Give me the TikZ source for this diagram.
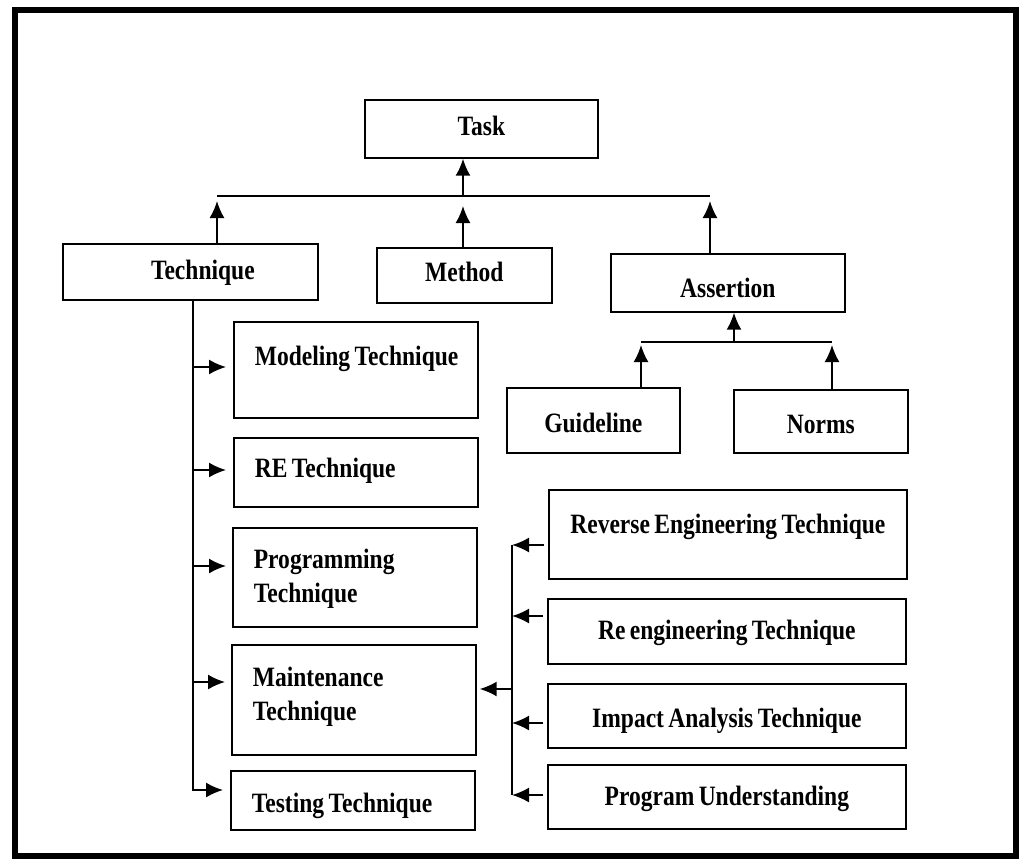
\documentclass[tikz,border=0pt]{standalone}
\usepackage{fontspec}
\newfontfamily\boxfont{Liberation Serif}[FakeStretch=0.84,WordSpace=0.75]
\usetikzlibrary{arrows.meta}
\begin{document}
\begin{tikzpicture}[x=1pt,y=-1pt,
  line/.style={line width=1.8pt},
  arr/.style={line width=1.8pt,-{Latex[length=17pt,width=15pt]}},
  box/.style={draw,line width=1.7pt,anchor=north west,inner ysep=0pt,
    font=\boxfont\bfseries\fontsize{28}{34}\selectfont},
  cbox/.style={box,inner xsep=0pt},
  lbox/.style={box,inner xsep=21pt,text width=202pt,align=flush left}]
\useasboundingbox (0,0) rectangle (1022,863);
% outer frame
\draw[line width=6.5pt] (15,10) rectangle (1016,856);

% top level
\node[cbox,minimum width=233pt,text height=36pt,text depth=22pt] (task) at (364,99) {Task};
\node[cbox,minimum width=255pt,text height=36pt,text depth=20pt] (tech) at (62,243) {\hspace{25pt}Technique};
\node[cbox,minimum width=175pt,text height=34pt,text depth=21pt] (method) at (376,247) {Method\hspace{17pt}};
\node[cbox,minimum width=234pt,text height=44pt,text depth=14pt] (assert) at (610,253) {Assertion};

% assertion children
\node[cbox,minimum width=173pt,text height=45pt,text depth=20pt] (guide) at (506,387) {Guideline};
\node[cbox,minimum width=174pt,text height=44pt,text depth=19pt] (norms) at (733,389) {Norms};

% technique children
\node[lbox,text height=44pt,text depth=52pt] (model) at (233,321) {\mbox{Modeling Technique}};
\node[lbox,text height=40pt,text depth=29pt] (retech) at (233,437) {RE Technique};
\node[lbox,text height=41pt,text depth=58pt] (prog) at (232,527) {Programming\\Technique};
\node[lbox,text height=42pt,text depth=68pt] (maint) at (231,644) {Maintenance\\Technique};
\node[lbox,text height=42pt,text depth=17pt] (test) at (230,770) {Testing Technique};

% maintenance children
\node[cbox,minimum width=358pt,text height=44pt,text depth=45pt] (rev) at (548,489) {Reverse Engineering Technique};
\node[cbox,minimum width=358pt,text height=41pt,text depth=24pt] (reeng) at (547,598) {Re engineering Technique};
\node[cbox,minimum width=358pt,text height=44pt,text depth=20pt] (impact) at (547,683) {Impact Analysis Technique};
\node[cbox,minimum width=358pt,text height=41pt,text depth=23pt] (pu) at (547,764) {Program Understanding};

% bar under the task
\coordinate (barL) at (217,196);
\coordinate (barR) at (710,196);
\coordinate (barM) at (463,196);
\coordinate (tipT) at (217,201);
\coordinate (tipM) at (463,206);
\coordinate (tipA) at (710,201);
\draw[line] (barL) -- (barR);
\draw[arr] (barM) -- (barM |- task.south);
\draw[arr] (tipT |- tech.north) -- (tipT);
\draw[arr] (tipM |- method.north) -- (tipM);
\draw[arr] (tipA |- assert.north) -- (tipA);

% bar under the assertion
\coordinate (abL) at (641,342);
\coordinate (abR) at (832,342);
\coordinate (abM) at (734,342);
\coordinate (atL) at (641,345);
\coordinate (atR) at (832,345);
\draw[line] (abL) -- (abR);
\draw[arr] (abM) -- (abM |- assert.south);
\draw[arr] (atL |- guide.north) -- (atL);
\draw[arr] (atR |- norms.north) -- (atR);

% technique spine
\coordinate (lMod) at (193,367);
\coordinate (lRe) at (193,470);
\coordinate (lProg) at (193,566);
\coordinate (lMnt) at (193,682);
\coordinate (lTest) at (193,790);
\draw[arr,shorten >=7pt] (lTest |- tech.south) -- (lTest) -- (lTest -| test.west);
\draw[arr,shorten >=7pt] (lMod) -- (lMod -| model.west);
\draw[arr,shorten >=7pt] (lRe) -- (lRe -| retech.west);
\draw[arr,shorten >=6pt] (lProg) -- (lProg -| prog.west);
\draw[arr,shorten >=6pt] (lMnt) -- (lMnt -| maint.west);

% maintenance spine
\coordinate (rRev) at (512,545);
\coordinate (rRe) at (512,616);
\coordinate (rImp) at (512,723);
\coordinate (rPU) at (512,795);
\coordinate (rMnt) at (512,689);
\draw[line] (rRev) -- (rPU);
\draw[arr,shorten <=4pt] (rRev -| rev.west) -- (rRev);
\draw[arr,shorten <=4pt] (rRe -| reeng.west) -- (rRe);
\draw[arr,shorten <=4pt] (rImp -| impact.west) -- (rImp);
\draw[arr,shorten <=4pt] (rPU -| pu.west) -- (rPU);
\draw[arr,shorten >=3pt] (rMnt) -- (rMnt -| maint.east);
\end{tikzpicture}
\end{document}
